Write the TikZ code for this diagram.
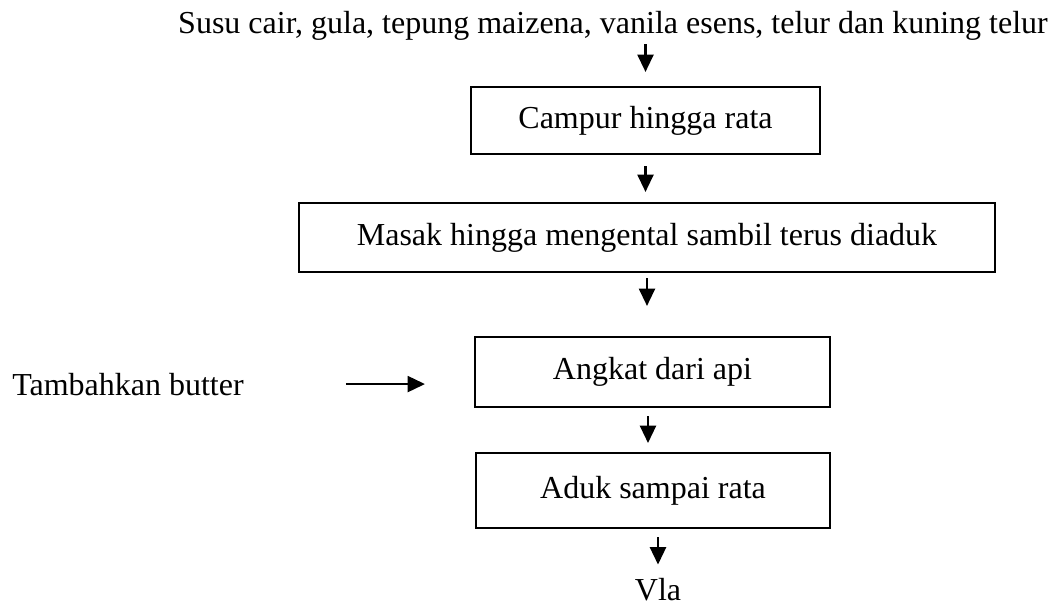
\documentclass[tikz,border=0pt]{standalone}
\usepackage{fontspec}
\setmainfont{Liberation Serif}
\usetikzlibrary{arrows.meta}
\tikzset{
  stepbox/.style={draw, line width=1.6pt, inner sep=0pt, align=center},
  plain/.style={inner sep=0pt},
  arr/.style={line width=1.7pt, -{Triangle[length=13pt,width=12pt]}},
}
\begin{document}
\begin{tikzpicture}[x=0.75pt, y=-0.75pt, font=\fontsize{24}{28}\selectfont]
\useasboundingbox (0,0) rectangle (1059,608);

% ingredients and side input
\node[plain, anchor=base] (src) at (613,33) {Susu cair, gula, tepung maizena, vanila esens, telur dan kuning telur};
\node[plain, anchor=base west] (butter) at (12,395) {Tambahkan butter};

% process steps
\node[stepbox, minimum width=349*0.75pt, minimum height=67*0.75pt] (b1) at (645.5,120.5) {Campur hingga rata};
\node[stepbox, minimum width=696*0.75pt, minimum height=69*0.75pt] (b2) at (647,237.5) {Masak hingga mengental sambil terus diaduk};
\node[stepbox, minimum width=355*0.75pt, minimum height=70*0.75pt] (b3) at (652.5,372) {Angkat dari api};
\node[stepbox, minimum width=354*0.75pt, minimum height=75*0.75pt] (b4) at (653,490.5) {Aduk sampai rata};

% product
\node[plain, anchor=base] (vla) at (658,600) {Vla};

% flow arrows
\draw[arr, shorten <=3pt, shorten >=10.5pt] (src.south -| b1.north) -- (b1.north);
\draw[arr, shorten <=8.25pt, shorten >=7.5pt] (b1.south) -- (b1.south |- b2.north);
\draw[arr, shorten <=3.75pt, shorten >=22.5pt] (b2.south) -- (b2.south |- b3.north);
\coordinate (a4e) at (648,453);
\draw[arr, shorten <=6pt, shorten >=7.5pt] (b3.south -| a4e) -- (a4e);
\draw[arr, shorten <=6pt, shorten >=9.75pt] (vla.north |- b4.south) -- (vla.north);
\draw[arr, shorten <=76.5pt, shorten >=36.75pt] (butter.east) -- (butter.east -| b3.west);
\end{tikzpicture}
\end{document}
